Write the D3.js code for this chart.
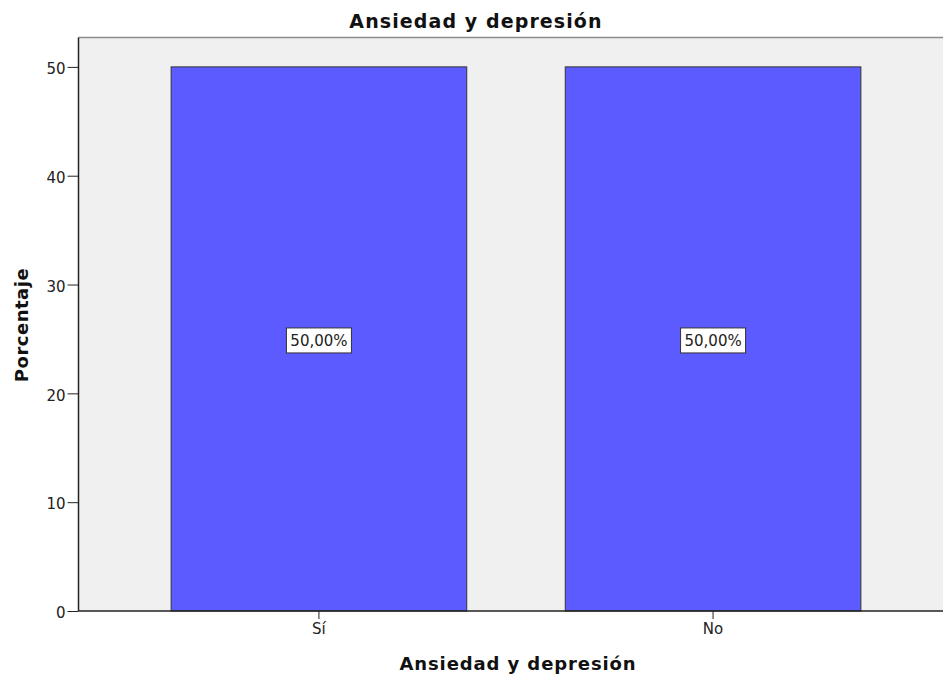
<!DOCTYPE html>
<html>
<head>
<meta charset="utf-8">
<script src="https://cdn.jsdelivr.net/npm/d3@7"></script>
<style>
    body { margin: 0; background: #fff; }
    svg { display: block; font-family: "DejaVu Sans", sans-serif; }
    .axis path, .axis line { stroke: #222; }
    .axis text { fill: #222; }
</style>
</head>
<body>
<div id="chart"></div>
<script>
// values
const categories = ["Sí", "No"]
const percents = [50, 50]
const bar_labels = ["50,00%", "50,00%"]
const y_ticks = [0, 10, 20, 30, 40, 50]
const title = "Ansiedad y depresión"
const x_title = "Ansiedad y depresión"
const y_title = "Porcentaje"

const width = 943, height = 675
const plot = {left: 78.5, top: 37.5, bottom: 611, right: 943}

const svg = d3.select("#chart").append("svg")
    .attr("width", width)
    .attr("height", height)

// plot background
svg.append("rect")
    .attr("x", plot.left)
    .attr("y", plot.top)
    .attr("width", plot.right - plot.left)
    .attr("height", plot.bottom - plot.top)
    .attr("fill", "#f0f0f0")

svg.append("line")
    .attr("x1", plot.left).attr("x2", plot.right)
    .attr("y1", plot.top).attr("y2", plot.top)
    .attr("stroke", "#8c8c8c")
    .attr("stroke-width", 1.5)

// the band extends a bit past the right edge of the image
let x = d3.scaleBand()
    .domain(categories)
    .range([plot.left, 953.5])
    .paddingInner(0.25)
    .paddingOuter(0.235)

let y = d3.scaleLinear()
    .domain([0, 52.7])
    .range([plot.bottom, plot.top])

let data = categories.map((c, i) => ({cat: c, val: percents[i], label: bar_labels[i]}))

// bars
svg.append("g")
    .selectAll("rect")
    .data(data)
    .enter()
    .append("rect")
    .attr("x", d => x(d.cat))
    .attr("y", d => y(d.val))
    .attr("width", x.bandwidth())
    .attr("height", d => y(0) - y(d.val))
    .attr("fill", "#5b5bff")
    .attr("stroke", "#333")
    .attr("stroke-width", 1)

// value labels in boxes at mid height
let labels = svg.append("g")
    .selectAll("g")
    .data(data)
    .enter()
    .append("g")
    .attr("transform", d => "translate(" + (x(d.cat) + x.bandwidth() / 2) + "," + (y(d.val / 2) + 1.5) + ")")

labels.append("rect")
    .attr("x", -32.5)
    .attr("y", -12.5)
    .attr("width", 65)
    .attr("height", 25)
    .attr("fill", "#fff")
    .attr("stroke", "#333")
    .attr("stroke-width", 1)

labels.append("text")
    .attr("text-anchor", "middle")
    .attr("dy", "0.36em")
    .attr("font-size", "15px")
    .attr("fill", "#222")
    .text(d => d.label)

// Y axis
svg.append("g")
    .attr("class", "axis")
    .attr("transform", "translate(" + plot.left + ",0)")
    .call(d3.axisLeft(y)
        .tickValues(y_ticks)
        .tickSize(11)
        .tickSizeOuter(0)
        .tickPadding(2))
    .attr("font-size", 15)
    .attr("font-family", null)
    .call(g => g.selectAll(".tick text").attr("dy", "0.45em"))
    .call(g => g.select(".domain").attr("d", "M0," + plot.top + "V" + plot.bottom).attr("stroke-width", 1.5))

// X axis
svg.append("g")
    .attr("class", "axis")
    .attr("transform", "translate(0," + plot.bottom + ")")
    .call(d3.axisBottom(x)
        .tickSize(8)
        .tickSizeOuter(0)
        .tickPadding(4))
    .attr("font-size", 15)
    .attr("font-family", null)
    .call(g => g.select(".domain").attr("d", "M" + plot.left + ",0H" + plot.right).attr("stroke-width", 1.5))

// titles
svg.append("text")
    .attr("x", 476)
    .attr("y", 28)
    .attr("text-anchor", "middle")
    .attr("font-weight", "bold")
    .attr("font-size", "19px")
    .attr("letter-spacing", "1.1px")
    .attr("fill", "#111")
    .text(title)

svg.append("text")
    .attr("x", 518)
    .attr("y", 670)
    .attr("text-anchor", "middle")
    .attr("font-weight", "bold")
    .attr("font-size", "18px")
    .attr("letter-spacing", "0.9px")
    .attr("fill", "#111")
    .text(x_title)

svg.append("text")
    .attr("transform", "translate(28,325) rotate(-90)")
    .attr("text-anchor", "middle")
    .attr("font-weight", "bold")
    .attr("font-size", "18px")
    .attr("letter-spacing", "0.5px")
    .attr("fill", "#111")
    .text(y_title)
</script>
</body>
</html>
